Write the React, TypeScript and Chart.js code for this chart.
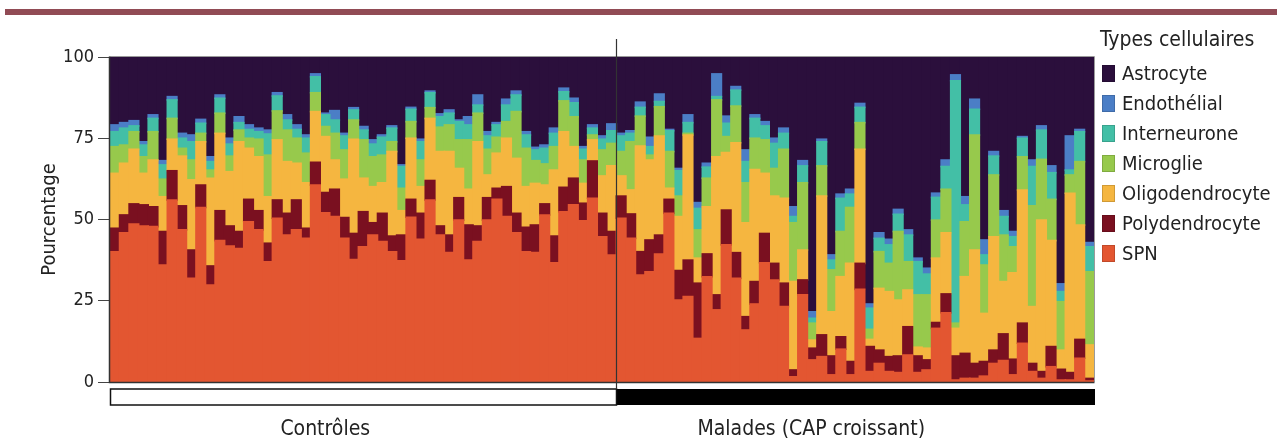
import React, { useEffect, useRef } from "react";
import { Chart, registerables } from "chart.js";
Chart.register(...registerables);

const FONT = "'DejaVu Sans Condensed', 'DejaVu Sans', sans-serif";

const groupNames = ["Contrôles", "Malades (CAP croissant)"];
const seriesNames = ["SPN", "Polydendrocyte", "Oligodendrocyte", "Microglie", "Interneurone", "Endothélial", "Astrocyte"];
const seriesColors = ["#e35631", "#7a1020", "#f5b640", "#97c94c", "#43bfa6", "#4b7ec6", "#2b0f3c"];
const yTicks = [0, 25, 50, 75, 100];

// SPN
const spnControls = [
  40.1, 45.9, 48.6, 48.0, 47.8, 36.0, 56.0, 46.8, 31.9, 53.7,
  29.8, 43.5, 41.8, 41.1, 49.3, 46.8, 37.0, 50.4, 45.2, 46.8,
  44.2, 60.6, 52.1, 50.9, 44.2, 37.7, 41.6, 45.2, 43.2, 40.1,
  37.3, 50.7, 43.9, 56.0, 45.2, 39.8, 49.8, 37.5, 43.2, 49.8,
  56.2, 50.9, 45.9, 40.1, 39.8, 51.4, 36.7, 52.4, 54.5, 49.6,
  56.5, 44.7, 39.1,
];
const spnPatients = [
  50.4, 44.2, 32.9, 33.9, 39.4, 51.9, 25.2, 26.3, 13.4, 32.4,
  22.2, 42.2, 31.9, 16.0, 24.0, 36.7, 31.4, 23.2, 1.6, 26.8,
  6.8, 7.8, 2.2, 10.1, 2.2, 28.5, 3.2, 5.7, 3.2, 2.9,
  8.3, 2.9, 3.7, 16.5, 21.3, 0.6, 1.1, 1.1, 1.8, 5.7,
  6.6, 2.2, 11.9, 3.2, 1.1, 4.7, 0.6, 0.6, 7.3, 0.3,
];
// Polydendrocyte
const polyControls = [
  7.2, 5.5, 6.2, 6.5, 6.1, 10.3, 9.0, 7.4, 8.7, 6.9,
  5.9, 9.2, 6.2, 5.2, 6.9, 5.9, 5.7, 5.6, 6.7, 9.2,
  3.1, 7.0, 6.2, 8.4, 6.4, 8.0, 10.8, 3.8, 8.7, 4.8,
  7.9, 5.5, 8.0, 6.0, 2.8, 5.4, 6.9, 10.8, 4.8, 6.9,
  3.4, 9.2, 6.0, 7.5, 8.5, 3.4, 8.2, 7.5, 8.2, 5.4,
  11.5, 7.2, 7.2,
];
const polyPatients = [
  6.8, 7.5, 7.2, 9.8, 5.8, 4.3, 9.1, 11.2, 17.0, 7.0,
  4.6, 10.7, 7.9, 4.1, 6.9, 9.0, 5.1, 7.2, 2.1, 4.6,
  3.6, 6.7, 5.8, 3.8, 4.1, 8.0, 7.7, 4.1, 4.6, 5.1,
  8.7, 5.1, 3.1, 1.8, 5.8, 7.4, 7.7, 4.6, 4.5, 4.1,
  8.2, 4.8, 6.2, 2.5, 2.1, 6.2, 3.3, 2.3, 5.8, 0.8,
];
// Oligodendrocyte
const oligoControls = [
  16.9, 15.9, 16.8, 9.7, 14.4, 10.7, 9.7, 15.3, 21.6, 13.3,
  27.0, 23.8, 16.7, 27.6, 15.7, 16.6, 14.3, 18.5, 15.9, 11.3,
  14.0, 15.6, 17.2, 9.0, 11.8, 29.0, 10.3, 11.1, 9.4, 26.0,
  7.5, 18.8, 8.2, 19.1, 22.9, 25.7, 9.0, 11.0, 25.9, 7.0,
  10.8, 14.9, 16.9, 12.5, 12.8, 5.8, 20.3, 17.1, 9.7, 6.1,
  6.5, 11.5, 20.2,
];
const oligoPatients = [
  6.2, 7.4, 32.5, 24.6, 30.5, 3.4, 16.6, 38.5, 7.7, 14.5,
  42.5, 17.7, 33.8, 28.9, 34.5, 18.5, 20.7, 26.1, 27.2, 9.2,
  2.5, 42.7, 13.6, 18.5, 30.2, 35.1, 2.2, 19.0, 20.0, 17.2,
  11.3, 2.7, 3.6, 19.8, 18.8, 8.5, 23.6, 34.9, 14.8, 34.9,
  16.1, 26.6, 41.0, 17.5, 46.6, 32.6, 5.9, 55.2, 35.2, 10.3,
];
// Microglie
const microControls = [
  8.2, 5.6, 5.4, 5.1, 8.7, 5.4, 6.4, 2.4, 6.1, 2.6,
  2.5, 6.2, 4.8, 3.6, 3.1, 5.4, 12.8, 8.9, 9.7, 7.7,
  9.1, 5.8, 3.1, 8.2, 9.0, 5.9, 11.8, 9.2, 8.5, 3.0,
  6.9, 5.1, 8.2, 3.3, 7.5, 8.2, 8.8, 15.2, 8.8, 7.9,
  4.9, 5.1, 14.4, 11.8, 7.0, 6.5, 7.2, 9.5, 9.2, 7.2,
  1.5, 8.0, 6.9,
];
const microPatients = [
  7.5, 14.8, 9.2, 1.5, 9.0, 11.3, 6.3, 0.5, 8.7, 8.8,
  17.5, 4.9, 11.3, 12.3, 9.6, 10.3, 8.5, 15.1, 18.1, 20.7,
  5.2, 9.3, 12.9, 13.9, 17.2, 8.2, 3.1, 11.3, 8.7, 21.1,
  8.7, 16.1, 16.4, 11.7, 13.4, 1.6, 16.9, 35.4, 14.9, 19.0,
  14.3, 8.0, 10.2, 31.0, 18.7, 12.7, 14.9, 5.6, 19.5, 22.5,
];
// Interneurone
const interControls = [
  4.6, 5.2, 1.8, 3.6, 4.1, 4.4, 5.7, 3.1, 5.6, 3.1,
  2.6, 4.6, 3.7, 2.3, 2.7, 2.3, 6.5, 4.6, 3.1, 2.7,
  4.6, 4.9, 3.6, 4.1, 4.3, 3.1, 3.0, 3.9, 5.5, 4.2,
  6.7, 3.8, 5.6, 4.6, 3.2, 3.6, 5.6, 4.6, 2.5, 4.1,
  3.8, 5.1, 5.1, 4.1, 3.3, 4.8, 4.1, 2.8, 4.3, 3.3,
  2.1, 3.3, 3.9,
];
const interPatients = [
  4.8, 2.6, 2.7, 2.6, 1.6, 6.4, 7.8, 3.3, 6.6, 3.4,
  1.0, 4.1, 4.9, 6.5, 6.1, 4.3, 7.7, 4.9, 1.9, 5.2,
  1.5, 7.4, 3.0, 10.2, 4.1, 4.7, 6.5, 4.1, 5.7, 5.3,
  8.2, 10.2, 6.4, 7.0, 7.0, 74.6, 5.2, 7.9, 3.1, 5.8,
  5.7, 3.1, 5.7, 12.1, 9.0, 8.2, 3.1, 1.5, 9.2, 7.7,
];
// Endothélial
const endoControls = [
  2.1, 1.7, 1.6, 1.0, 1.1, 1.3, 1.0, 1.5, 2.1, 1.2,
  1.5, 1.0, 1.8, 1.8, 1.4, 1.1, 1.2, 1.0, 1.6, 1.4,
  1.0, 0.9, 0.5, 2.9, 0.8, 0.7, 1.1, 1.3, 0.7, 0.7,
  0.5, 0.6, 0.8, 0.5, 0.9, 1.0, 0.5, 2.5, 3.1, 1.3,
  0.7, 1.8, 1.2, 1.0, 0.8, 1.0, 1.6, 1.1, 1.4, 0.8,
  1.0, 1.0, 2.1,
];
const endoPatients = [
  0.8, 0.8, 1.6, 2.9, 2.3, 0.4, 0.7, 2.4, 1.8, 1.2,
  7.0, 2.2, 1.1, 3.6, 1.1, 1.3, 1.6, 1.6, 3.0, 1.6,
  2.0, 0.8, 1.6, 1.3, 1.5, 1.2, 1.3, 1.7, 1.7, 1.5,
  1.6, 1.1, 1.8, 1.3, 2.0, 1.8, 2.5, 3.1, 4.6, 1.4,
  1.8, 1.6, 0.5, 2.0, 1.3, 2.1, 2.4, 10.5, 0.7, 1.3,
];
// Astrocyte
const astroControls = [
  20.9, 20.2, 19.6, 26.1, 17.8, 31.9, 12.2, 23.5, 24.0, 19.2,
  30.7, 11.7, 25.0, 18.4, 20.9, 21.9, 22.5, 11.0, 17.8, 20.9,
  24.0, 5.2, 17.3, 16.5, 23.5, 15.6, 21.4, 25.5, 24.0, 21.2,
  33.2, 15.5, 25.3, 10.5, 17.5, 16.3, 19.4, 18.4, 11.7, 23.0,
  20.2, 13.0, 10.5, 23.0, 27.8, 27.1, 21.9, 9.6, 12.7, 27.6,
  20.9, 24.3, 20.6,
];
const astroPatients = [
  23.5, 22.7, 13.9, 24.7, 11.4, 22.3, 34.3, 17.8, 44.8, 32.7,
  5.2, 18.2, 9.1, 28.6, 17.8, 19.9, 25.0, 21.9, 46.1, 31.9,
  78.4, 25.3, 60.9, 42.2, 40.7, 14.3, 76.0, 54.1, 56.1, 46.9,
  53.2, 61.9, 65.0, 41.9, 31.7, 5.5, 43.0, 13.0, 56.3, 29.1,
  47.3, 53.7, 24.5, 31.7, 21.2, 33.5, 69.8, 24.3, 22.3, 57.1,
];

const controlLabels = spnControls.map((_, i) => "C" + (i + 1));
const patientLabels = spnPatients.map((_, i) => "M" + (i + 1));
const categories = [...controlLabels, ...patientLabels];

const seriesData = [
  [...spnControls, ...spnPatients],
  [...polyControls, ...polyPatients],
  [...oligoControls, ...oligoPatients],
  [...microControls, ...microPatients],
  [...interControls, ...interPatients],
  [...endoControls, ...endoPatients],
  [...astroControls, ...astroPatients],
];

const decorPlugin = {
  id: "decor",
  afterDatasetsDraw(chart: any) {
    const { ctx, chartArea: a, scales } = chart;
    const xs = scales.x;
    const n = controlLabels.length;
    const sep = Math.round((xs.getPixelForValue(n - 1) + xs.getPixelForValue(n)) / 2) + 0.5;
    ctx.save();
    // frame
    ctx.strokeStyle = "#9a9a9a";
    ctx.lineWidth = 1;
    ctx.beginPath();
    ctx.moveTo(a.left - 0.5, a.top - 0.5);
    ctx.lineTo(a.right + 0.5, a.top - 0.5);
    ctx.lineTo(a.right + 0.5, a.bottom);
    ctx.stroke();
    ctx.strokeStyle = "#333";
    ctx.lineWidth = 1.5;
    ctx.beginPath();
    ctx.moveTo(a.left - 0.5, a.top - 0.5);
    ctx.lineTo(a.left - 0.5, a.bottom + 0.5);
    ctx.lineTo(a.right + 0.5, a.bottom + 0.5);
    ctx.stroke();
    // group bar
    const gTop = a.bottom + 7;
    const gH = 16;
    ctx.fillStyle = "#000";
    ctx.fillRect(sep, gTop, a.right + 1 - sep, gH);
    ctx.strokeStyle = "#111";
    ctx.lineWidth = 1.5;
    ctx.strokeRect(a.left + 0.5, gTop, sep - a.left - 0.5, gH);
    // separator
    ctx.strokeStyle = "#333";
    ctx.lineWidth = 1.2;
    ctx.beginPath();
    ctx.moveTo(sep, a.top - 18);
    ctx.lineTo(sep, gTop);
    ctx.stroke();
    // group labels
    ctx.fillStyle = "#222";
    ctx.textAlign = "center";
    ctx.textBaseline = "alphabetic";
    ctx.font = "21px " + FONT;
    ctx.fillText(groupNames[0], (a.left + sep) / 2 - 38, 435);
    ctx.fillText(groupNames[1], (sep + a.right) / 2 - 44, 435);
    ctx.restore();
  },
};

export default function App() {
  const ref = useRef<HTMLCanvasElement>(null);
  useEffect(() => {
    if (!ref.current) return;
    const chart = new Chart(ref.current, {
      type: "bar",
      data: {
        labels: categories,
        datasets: seriesNames.map((name, i) => ({
          label: name,
          data: seriesData[i],
          backgroundColor: seriesColors[i],
          borderColor: seriesColors[i],
          borderWidth: 0,
          inflateAmount: 0.8,
          barPercentage: 1,
          categoryPercentage: 1,
        })),
      },
      options: {
        responsive: false,
        animation: false,
        layout: { padding: { left: 38, top: 57, right: 183, bottom: 58 } },
        plugins: { legend: { display: false }, tooltip: { enabled: false } },
        scales: {
          x: { stacked: true, display: false },
          y: {
            stacked: true,
            min: 0,
            max: 100,
            afterFit: (s: any) => { s.width = 72; },
            afterBuildTicks: (s: any) => { s.ticks = yTicks.map((v) => ({ value: v })); },
            ticks: { color: "#222", font: { family: FONT, size: 18 }, padding: 4 },
            grid: { drawOnChartArea: false, tickLength: 12, color: "#444" },
            border: { display: false },
            title: { display: true, text: "Pourcentage", color: "#222", font: { family: FONT, size: 20 }, padding: 0 },
          },
        },
      },
      plugins: [decorPlugin],
    });
    return () => chart.destroy();
  }, []);

  const legendOrder = [6, 5, 4, 3, 2, 1, 0];
  return (
    <div style={{ position: "absolute", left: 0, top: 0, width: 1277, height: 440, background: "#fff", overflow: "hidden" }}>
      <div style={{ position: "absolute", left: 5, top: 9, width: 1272, height: 6, background: "#914b55" }} />
      <canvas ref={ref} width={1277} height={440} style={{ position: "absolute", left: 0, top: 0, display: "block" }} />
      <div style={{ position: "absolute", left: 1100, top: 26, fontFamily: FONT, color: "#222" }}>
        <div style={{ fontSize: 21, lineHeight: "27px", marginBottom: 5 }}>Types cellulaires</div>
        {legendOrder.map((i) => (
          <div key={i} style={{ display: "flex", alignItems: "center", height: 30, whiteSpace: "nowrap" }}>
            <span style={{ display: "inline-block", width: 11, height: 15, background: seriesColors[i], border: "1px solid rgba(0,0,0,0.15)", marginLeft: 2, marginRight: 7 }} />
            <span style={{ fontSize: 20 }}>{seriesNames[i]}</span>
          </div>
        ))}
      </div>
    </div>
  );
}
